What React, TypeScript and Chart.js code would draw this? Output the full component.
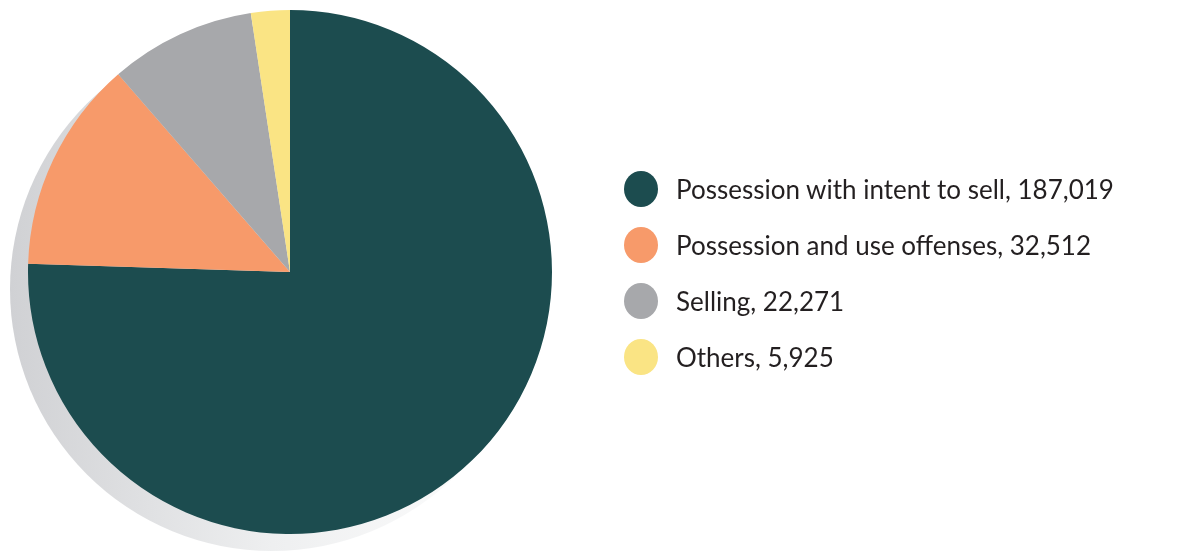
import React, { useEffect, useRef } from "react";
import { Chart, registerables } from "chart.js";

Chart.register(...registerables);

const categories = [
  "Possession with intent to sell",
  "Possession and use offenses",
  "Selling",
  "Others",
];
const values = [187019, 32512, 22271, 5925];
const valueLabels = ["187,019", "32,512", "22,271", "5,925"];
const colors = ["#1c4c4f", "#f79a6a", "#a7a8ab", "#fae484"];

const shadowPlugin = {
  id: "pieShadow",
  beforeDatasetsDraw(chart: any) {
    const meta = chart.getDatasetMeta(0);
    const arc = meta && meta.data && meta.data[0];
    if (!arc) return;
    const { x, y, outerRadius } = arc as any;
    const ctx = chart.ctx as CanvasRenderingContext2D;
    const cx = x - 18;
    const cy = y + 17;
    const g = ctx.createLinearGradient(cx - outerRadius, 0, cx + outerRadius, 0);
    g.addColorStop(0, "#d0d1d4");
    g.addColorStop(0.5, "#eeeff0");
    g.addColorStop(1, "#ffffff");
    ctx.save();
    ctx.beginPath();
    ctx.arc(cx, cy, outerRadius, 0, Math.PI * 2);
    ctx.fillStyle = g;
    ctx.fill();
    ctx.restore();
  },
};

export default function App() {
  const ref = useRef<HTMLCanvasElement | null>(null);
  useEffect(() => {
    document.body.style.margin = "0";
    if (!ref.current) return;
    const chart = new Chart(ref.current, {
      type: "pie",
      data: {
        labels: categories,
        datasets: [
          {
            data: values,
            backgroundColor: colors,
            borderWidth: 0,
          },
        ],
      },
      options: {
        animation: false,
        responsive: false,
        maintainAspectRatio: false,
        layout: { padding: { left: 28, right: 638, top: 10, bottom: 19 } },
        plugins: {
          legend: { display: false },
          tooltip: { enabled: false },
        },
      },
      plugins: [shadowPlugin],
    });
    return () => chart.destroy();
  }, []);

  return (
    <div style={{ position: "relative", width: 1190, height: 553, background: "#fff" }}>
      <canvas ref={ref} width={1190} height={553} style={{ position: "absolute", left: 0, top: 0 }} />
      {categories.map((c, i) => (
        <div
          key={c}
          style={{
            position: "absolute",
            left: 624,
            top: 189 + i * 56 - 20,
            height: 40,
            display: "flex",
            alignItems: "center",
            fontFamily: "Lato, 'Open Sans', sans-serif",
            fontSize: 26,
            color: "#231f20",
            whiteSpace: "nowrap",
          }}
        >
          <span
            style={{
              display: "inline-block",
              width: 34,
              height: 36,
              borderRadius: "50%",
              background: colors[i],
              marginRight: 18,
              flex: "none",
            }}
          />
          <span>{`${c}, ${valueLabels[i]}`}</span>
        </div>
      ))}
    </div>
  );
}
